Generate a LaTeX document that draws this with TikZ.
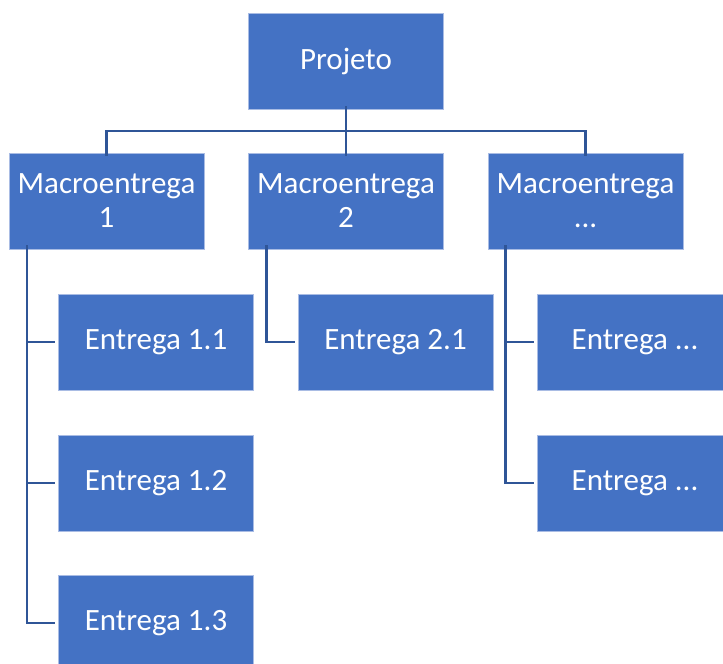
\documentclass[tikz,border=0pt]{standalone}
\usepackage{fontspec}
\setmainfont{Carlito}
\definecolor{boxblue}{HTML}{4472C4}
\definecolor{boxedge}{HTML}{A9BCE4}
\definecolor{linkblue}{HTML}{2F5597}
\begin{document}
\begin{tikzpicture}[x=1pt,y=-1pt,
  wbox/.style={fill=boxblue,draw=boxedge,line width=0.8pt,minimum width=195pt,minimum height=96pt,inner sep=0pt,
    text=white,align=center,font=\fontsize{31}{34}\selectfont},
  conn/.style={draw=linkblue,line width=2.3pt}]
\useasboundingbox (0,0) rectangle (723,664);
\clip (0,0) rectangle (723,664);
\node[wbox] (proj) at (346,61) {Projeto};
\node[wbox] (m1) at (106.5,201) {Macroentrega\\1};
\node[wbox] (m2) at (346,201) {Macroentrega\\2};
\node[wbox] (m3) at (585.5,201) {Macroentrega\\...};
\node[wbox] (e11) at (156,342) {Entrega 1.1};
\node[wbox] (e12) at (156,483) {Entrega 1.2};
\node[wbox] (e13) at (156,623) {Entrega 1.3};
\node[wbox] (e21) at (395.5,342) {Entrega 2.1};
\node[wbox] (e31) at (635,342) {Entrega ...};
\node[wbox] (e32) at (635,483) {Entrega ...};
% top bus
\coordinate (bus) at (346,131);
\draw[conn] ([yshift=3pt]proj.south) -- (proj.south |- bus);
\draw[conn] ([yshift=-3pt]m1.north) |- (bus) -| ([yshift=-3pt]m3.north);
\draw[conn] (bus) -- ([yshift=-3pt]m2.north);
% children of m1
\coordinate (c1) at ([xshift=18.5pt,yshift=4pt]m1.south west);
\draw[conn] (c1) |- ([xshift=-3pt]e13.west);
\draw[conn] (c1 |- e11.west) -- ([xshift=-3pt]e11.west);
\draw[conn] (c1 |- e12.west) -- ([xshift=-3pt]e12.west);
% children of m2
\coordinate (c2) at ([xshift=18.5pt,yshift=4pt]m2.south west);
\draw[conn] (c2) |- ([xshift=-3pt]e21.west);
% children of m3
\coordinate (c3) at ([xshift=18pt,yshift=4pt]m3.south west);
\draw[conn] (c3) |- ([xshift=-3pt]e32.west);
\draw[conn] (c3 |- e31.west) -- ([xshift=-3pt]e31.west);
\end{tikzpicture}
\end{document}
